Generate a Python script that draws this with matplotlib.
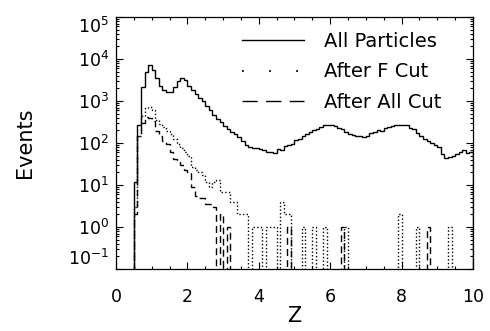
import numpy as np
import matplotlib
matplotlib.use("Agg")
import matplotlib.pyplot as plt
from matplotlib.lines import Line2D
from matplotlib.ticker import LogLocator, MultipleLocator, NullFormatter

# ---- data (bins of width 0.1 starting at Z = 0.5) ----
bin_start = 0.5
bin_width = 0.1

all_particles = [
    12, 270, 2200, 5000, 7200, 5500, 3500, 2300, 1800, 1600,
    1600, 2200, 3000, 3500, 3100, 2300, 1800, 1500, 1200, 1000,
    750, 600, 470, 380, 310, 260, 210, 180, 160, 140,
    110, 92, 82, 78, 75, 72, 68, 62, 60, 58,
    72, 70, 85, 88, 95, 115, 125, 150, 160, 185,
    205, 220, 245, 265, 270, 265, 255, 230, 210, 178,
    165, 158, 150, 145, 140, 150, 170, 185, 200, 190,
    225, 235, 250, 270, 275, 270, 268, 230, 210, 170,
    150, 125, 110, 100, 88, 80, 55, 45, 46, 48,
    55, 60, 70, 58, 62,
]

after_f_cut = [
    3, 150, 450, 680, 730, 600, 350, 290, 240, 190,
    160, 125, 95, 78, 62, 50, 27, 23, 20, 17,
    12, 9, 12, 13, 7, 7, 7, 4, 4, 2,
    2, 2, 0, 1, 1, 1, 0, 1, 1, 1,
    0, 4, 2, 2, 0, 0, 0, 1, 0, 0,
    1, 0, 0, 1, 0, 0, 0, 0, 0, 1,
    0, 0, 0, 0, 0, 0, 0, 0, 0, 0,
    0, 0, 0, 0, 2, 0, 0, 0, 0, 1,
    0, 0, 0, 0, 0, 0, 0, 0, 1, 0,
    0, 0, 0, 0, 0,
]

after_all_cut = [
    2, 150, 300, 420, 400, 330, 190, 150, 110, 95,
    60, 42, 40, 30, 23, 20, 9, 5.5, 5, 5,
    3.5, 3.5, 3, 0, 2, 0, 1, 0, 0, 0,
    0, 0, 0, 0, 0, 0, 0, 0, 0, 0,
    0, 0, 0, 1, 0, 0, 0, 0, 0, 0,
    0, 0, 0, 0, 0, 0, 0, 0, 1, 0,
    0, 0, 0, 0, 0, 0, 0, 0, 0, 0,
    0, 0, 0, 0, 0, 0, 0, 0, 0, 0,
    0, 0, 1, 0, 0, 0, 0, 0, 0, 0,
    0, 0, 0, 0, 0,
]

legend_labels = ["All Particles", "After F Cut", "After All Cut"]
x_ticks = [0, 2, 4, 6, 8, 10]

# ---- figure ----
plt.rcParams['font.family'] = ['DejaVu Sans']
fig = plt.figure(figsize=(4.9, 3.31), dpi=100)
ax = fig.add_axes([0.2367, 0.1873, 0.9653 - 0.2367, 0.9486 - 0.1873])

n = len(all_particles)
edges = bin_start + bin_width * np.arange(n + 1)
floor = 0.05  # empty bins drawn at the bottom of the log axis

def show(v):
    return np.maximum(np.asarray(v, dtype=float), floor)

lw = 1.0
ax.stairs(show(all_particles), edges, baseline=floor, color='black', lw=lw,
          linestyle='-')
ax.stairs(show(after_f_cut), edges, baseline=floor, color='black', lw=lw,
          linestyle=(0, (1, 1.6)))
ax.stairs(show(after_all_cut), edges, baseline=floor, color='black', lw=lw,
          linestyle=(0, (5, 3)))

ax.set_yscale('log')
ax.set_xlim(0, 10)
ax.set_ylim(0.1, 1e5)
ax.set_xticks(x_ticks)
ax.xaxis.set_minor_locator(MultipleLocator(0.5))
ax.yaxis.set_major_locator(LogLocator(base=10, numticks=10))
ax.yaxis.set_minor_locator(LogLocator(base=10, subs=np.arange(2, 10), numticks=20))
ax.yaxis.set_minor_formatter(NullFormatter())

ax.tick_params(which='both', direction='in', top=True, right=True,
               width=0.8, colors='black', labelsize=12.5)
ax.tick_params(which='major', length=5, pad=5)
ax.tick_params(which='minor', length=2.5)
ax.tick_params(axis='x', which='major', pad=14)

for s in ax.spines.values():
    s.set_linewidth(0.9)

ax.set_xlabel('Z', fontsize=15, labelpad=0)
ax.set_ylabel('Events', fontsize=15, labelpad=24)

# legend (drawn as in the original: sparse-dot and dash samples)
handles = [
    Line2D([], [], color='black', lw=lw, linestyle='-'),
    Line2D([], [], color='black', lw=1.3, linestyle=(0, (1, 14))),
    Line2D([], [], color='black', lw=lw, linestyle=(0, (11, 6))),
]
ax.legend(handles, legend_labels, loc='upper left',
          bbox_to_anchor=(0.353, 0.94), frameon=False, fontsize=14,
          handlelength=3.2, handletextpad=1.0, labelspacing=0.58,
          borderpad=0, borderaxespad=0)

fig.canvas.draw()
ylabels = ax.get_yticklabels()
for t in ylabels:
    txt = t.get_text()
    if '{5}' in txt:
        t.set_verticalalignment('top')
    if '{-1}' in txt:
        t.set_verticalalignment('bottom')

fig.savefig('out.png', dpi=100)
